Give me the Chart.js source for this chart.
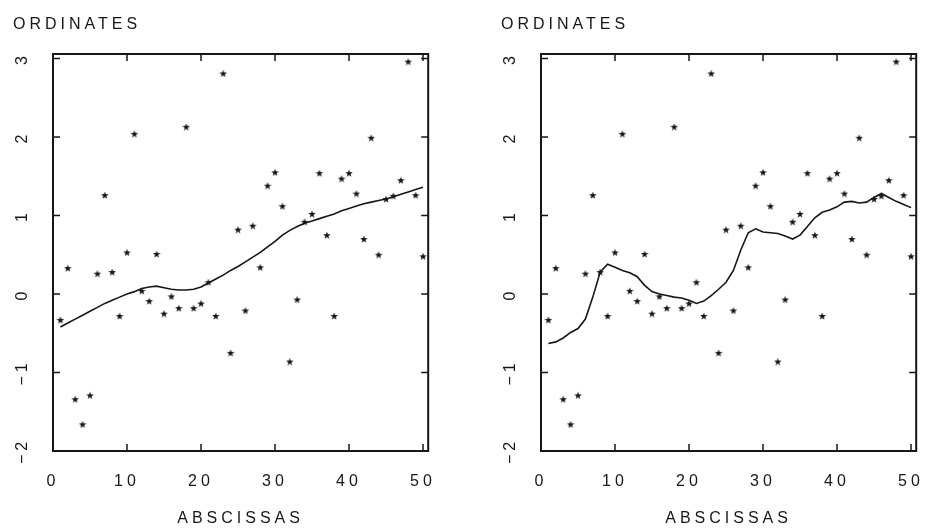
<!DOCTYPE html>
<html>
<head>
<meta charset="utf-8">
<script src="https://cdn.jsdelivr.net/npm/chart.js@4.4.1/dist/chart.umd.min.js"></script>
<style>
body{margin:0;background:#fff;width:945px;height:528px;position:relative;overflow:hidden}
.box{position:absolute;top:0;width:457px;height:528px}
</style>
</head>
<body>
<div class="box" style="left:0"><canvas id="chartL" width="457" height="528"></canvas></div>
<div class="box" style="left:488px"><canvas id="chartR" width="457" height="528"></canvas></div>
<script>
const abscissas = [1,2,3,4,5,6,7,8,9,10,11,12,13,14,15,16,17,18,19,20,21,22,23,24,25,
  26,27,28,29,30,31,32,33,34,35,36,37,38,39,40,41,42,43,44,45,46,47,48,49,50];
const observed = [-0.33,0.33,-1.34,-1.66,-1.29,0.26,1.26,0.28,-0.28,0.53,
  2.04,0.04,-0.09,0.51,-0.25,-0.03,-0.18,2.13,-0.18,-0.12,
  0.15,-0.28,2.81,-0.75,0.82,-0.21,0.87,0.34,1.38,1.55,
  1.12,-0.86,-0.07,0.92,1.02,1.54,0.75,-0.28,1.47,1.54,
  1.28,0.70,1.99,0.50,1.21,1.25,1.45,2.96,1.26,0.48];
// wide span smooth (left panel)
const smoothWide = [-0.42,-0.37,-0.32,-0.27,-0.22,-0.17,-0.12,-0.08,-0.04,0.00,
  0.03,0.07,0.09,0.10,0.08,0.06,0.05,0.05,0.06,0.09,
  0.14,0.19,0.24,0.30,0.35,0.41,0.47,0.53,0.60,0.67,
  0.75,0.81,0.86,0.90,0.93,0.96,0.99,1.02,1.06,1.09,
  1.12,1.15,1.17,1.19,1.21,1.24,1.27,1.30,1.33,1.36];
// narrow span smooth (right panel)
const smoothNarrow = [-0.63,-0.61,-0.56,-0.49,-0.44,-0.32,-0.04,0.28,0.38,0.34,
  0.30,0.27,0.22,0.11,0.03,0.00,-0.02,-0.04,-0.05,-0.08,
  -0.12,-0.09,-0.02,0.06,0.15,0.30,0.56,0.78,0.83,0.79,
  0.78,0.77,0.74,0.70,0.75,0.86,0.97,1.04,1.07,1.11,
  1.17,1.18,1.16,1.17,1.23,1.28,1.23,1.18,1.14,1.10];

const ink = '#161616';
const fontFam = '"Liberation Sans", Arial, sans-serif';
Chart.defaults.font.family = fontFam;
Chart.defaults.color = ink;

function starImg() {
  const c = document.createElement('canvas');
  c.width = 8; c.height = 8;
  const g = c.getContext('2d');
  g.beginPath();
  for (let i = 0; i < 10; i++) {
    const r = i % 2 ? 1.6 : 4;
    const a = -Math.PI / 2 + i * Math.PI / 5;
    g.lineTo(4 + r * Math.cos(a), 4.4 + r * Math.sin(a));
  }
  g.closePath();
  g.fillStyle = ink;
  g.fill();
  return c;
}
const star = starImg();

const spacing = {
  id: 'spacing',
  beforeUpdate(c) { c.ctx.letterSpacing = '4px'; },
  beforeDraw(c) { c.ctx.letterSpacing = '4px'; }
};

const frame = {
  id: 'frame',
  beforeDatasetsDraw(c) {
    const {ctx, chartArea: a, scales: {x, y}} = c;
    ctx.save();
    ctx.strokeStyle = ink;
    ctx.lineWidth = 2;
    ctx.strokeRect(a.left, a.top, a.right - a.left, a.bottom - a.top);
    ctx.lineWidth = 1.5;
    ctx.beginPath();
    x.ticks.forEach(t => {
      const p = x.getPixelForValue(t.value);
      ctx.moveTo(p, a.bottom); ctx.lineTo(p, a.bottom - 7);
      ctx.moveTo(p, a.top); ctx.lineTo(p, a.top + 7);
    });
    y.ticks.forEach(t => {
      const p = y.getPixelForValue(t.value);
      ctx.moveTo(a.left, p); ctx.lineTo(a.left + 7, p);
      ctx.moveTo(a.right, p); ctx.lineTo(a.right - 7, p);
    });
    ctx.stroke();
    ctx.fillStyle = ink;
    ctx.font = '16px ' + fontFam;
    ctx.letterSpacing = '4px';
    ctx.textAlign = 'center';
    ctx.textBaseline = 'middle';
    y.ticks.forEach(t => {
      ctx.save();
      ctx.translate(23, y.getPixelForValue(t.value));
      ctx.rotate(-Math.PI / 2);
      ctx.fillText(String(t.value).replace('-', '\u2212'), 0, 0);
      ctx.restore();
    });
    ctx.textAlign = 'left';
    ctx.fillText('ORDINATES', 13, 25);
    ctx.restore();
  }
};

function graficar(id, smooth) {
  new Chart(document.getElementById(id), {
    type: 'scatter',
    data: {
      datasets: [
        {
          data: abscissas.map((x, i) => ({x: x, y: observed[i]})),
          pointStyle: star,
          pointRadius: 4
        },
        {
          data: abscissas.map((x, i) => ({x: x, y: smooth[i]})),
          showLine: true,
          pointRadius: 0,
          borderColor: ink,
          borderWidth: 1.6,
          tension: 0
        }
      ]
    },
    options: {
      responsive: false,
      animation: false,
      layout: {padding: {top: 54, right: 6, left: 0, bottom: 0}},
      plugins: {legend: {display: false}, tooltip: {enabled: false}},
      scales: {
        x: {
          type: 'linear', min: 0, max: 50.7,
          grid: {display: false, drawTicks: false},
          border: {display: false},
          ticks: {stepSize: 10, includeBounds: false, padding: 21, maxRotation: 0,
            color: ink, font: {size: 16}},
          title: {display: true, text: 'ABSCISSAS', color: ink, font: {size: 16},
            padding: {top: 0, bottom: 0}},
          afterFit(s) { s.height = 77; }
        },
        y: {
          type: 'linear', min: -2, max: 3.057,
          grid: {display: false, drawTicks: false},
          border: {display: false},
          ticks: {display: false, stepSize: 1, includeBounds: false},
          afterFit(s) { s.width = 53; }
        }
      }
    },
    plugins: [spacing, frame]
  });
}

graficar('chartL', smoothWide);
graficar('chartR', smoothNarrow);
</script>
</body>
</html>
